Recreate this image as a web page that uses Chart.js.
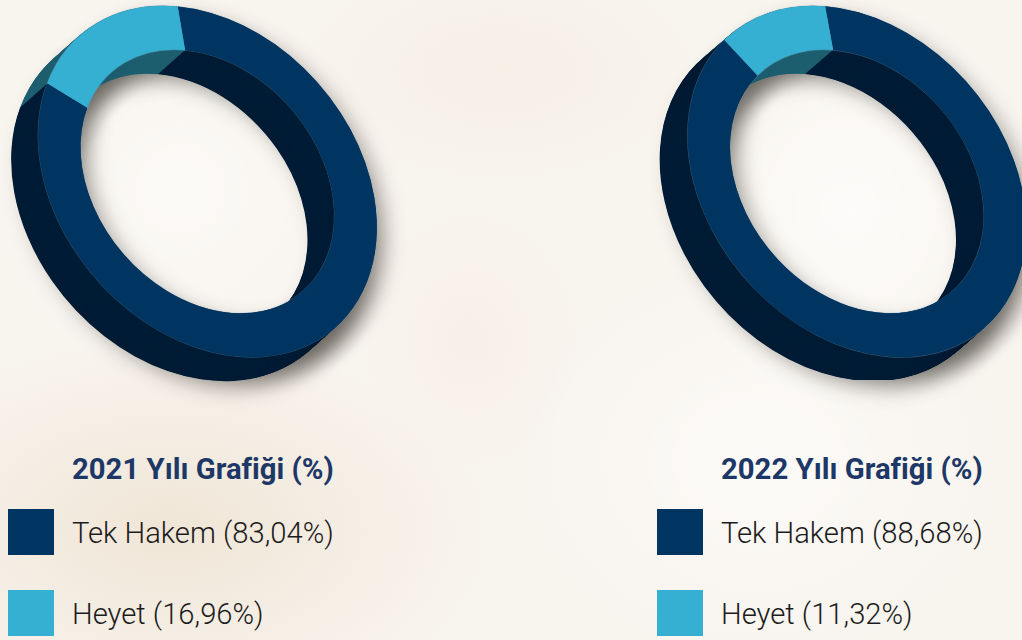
<!DOCTYPE html>
<html lang="tr">
<head>
<meta charset="utf-8">
<title>Tek Hakem / Heyet</title>
<script src="https://cdn.jsdelivr.net/npm/chart.js@4/dist/chart.umd.min.js"></script>
<style>
html, body { margin: 0; padding: 0; }
body {
    width: 1022px; height: 640px; overflow: hidden; position: relative;
    font-family: Roboto, sans-serif;
    background:
        radial-gradient(ellipse 190px 190px at 180px 190px, rgba(255,255,255,.5), rgba(255,255,255,0)),
        radial-gradient(ellipse 190px 210px at 850px 210px, rgba(255,255,255,.7), rgba(255,255,255,0)),
        radial-gradient(ellipse 240px 200px at 760px 460px, rgba(255,255,255,.6), rgba(255,255,255,0)),
        radial-gradient(ellipse 200px 110px at 500px 70px, rgba(243,236,226,.7), rgba(243,236,226,0)),
        radial-gradient(ellipse 320px 190px at 170px 530px, rgba(238,226,209,.8), rgba(238,226,209,0)),
        radial-gradient(ellipse 110px 130px at 470px 340px, rgba(245,237,227,.6), rgba(245,237,227,0)),
        #f8f4ee;
}
canvas { position: absolute; top: 0; }
.title { position: absolute; top: 451px; font-weight: 700; font-size: 29.3px; line-height: 36px; color: #1d3866; white-space: nowrap; }
.swatch { position: absolute; width: 46px; height: 46px; }
.label { position: absolute; font-weight: 300; font-size: 29.2px; line-height: 36px; color: #1c1c1c; white-space: nowrap; }
</style>
</head>
<body>
<canvas id="chart2021" width="500" height="420" style="left:0"></canvas>
<canvas id="chart2022" width="382" height="420" style="left:640px"></canvas>
<script>
var categories = ['Tek Hakem', 'Heyet']
var values2021 = [83.04, 16.96]
var values2022 = [88.68, 11.32]
var titles = ['2021 Yılı Grafiği (%)', '2022 Yılı Grafiği (%)']
var faceColors = ['#003562', '#35b0d2']
var wallColors = ['#001c35', '#1e5f70']

// how the flat ring is tilted into an ellipse and pushed back into a solid
function tiltPlugin(tilt) {
    return {
        id: 'tilt',
        beforeDatasetsDraw: function (chart) {
            var ctx = chart.ctx
            var arcs = chart.getDatasetMeta(0).data
            var r = arcs[0].outerRadius
            var rad = tilt.angle * Math.PI / 180
            var setFace = function (dx, dy) {
                ctx.setTransform(1, 0, 0, 1, 0, 0)
                ctx.translate(tilt.cx + dx, tilt.cy + dy)
                ctx.rotate(rad)
                ctx.scale(tilt.a / r, tilt.b / r)
                ctx.translate(-arcs[0].x, -arcs[0].y)
            }
            var paint = function (colors) {
                arcs.forEach(function (arc, i) {
                    var keep = arc.options
                    arc.options = Object.assign({}, keep, colors(i))
                    arc.draw(ctx)
                    arc.options = keep
                })
            }
            ctx.save()
            // soft shadow only, the shape itself is drawn far off the canvas
            ctx.shadowColor = 'rgba(60,55,50,.3)'
            ctx.shadowBlur = 20
            ctx.shadowOffsetX = 3000 + 10
            ctx.shadowOffsetY = 9
            for (var s = 0; s <= 3; s++) {
                setFace(tilt.dx * s / 3 - 3000, tilt.dy * s / 3)
                paint(function () { return { backgroundColor: '#000' } })
            }
            ctx.restore()
            // side wall
            ctx.save()
            if (tilt.clipY) {
                ctx.beginPath()
                ctx.rect(0, 0, chart.width, tilt.clipY)
                ctx.clip()
            }
            var steps = Math.ceil(Math.abs(tilt.dx)) * 2
            for (var k = steps; k >= 0; k--) {
                setFace(tilt.dx * k / steps, tilt.dy * k / steps)
                paint(function (i) { return { backgroundColor: wallColors[i] } })
            }
            ctx.restore()
            // hairline between wall and face, then the face
            ctx.save()
            setFace(0, 0)
            paint(function () { return { backgroundColor: 'rgba(0,0,0,0)', borderWidth: 1.2, borderColor: 'rgba(125,165,190,.4)', borderAlign: 'center' } })
            paint(function (i) { return { backgroundColor: faceColors[i], borderWidth: 0 } })
            ctx.restore()
            return false
        }
    }
}

function createChart(id, values, tilt) {
    return new Chart(document.getElementById(id).getContext('2d'), {
        type: 'doughnut',
        data: {
            labels: categories,
            datasets: [{ data: values, backgroundColor: faceColors, borderWidth: 0 }]
        },
        options: {
            responsive: false,
            animation: false,
            rotation: tilt.rotation,
            cutout: '75%',
            plugins: { legend: { display: false }, tooltip: { enabled: false } }
        },
        plugins: [tiltPlugin(tilt)]
    })
}

function addLegend(left, title, values) {
    var add = function (cls, x, y, text) {
        var el = document.createElement('div')
        el.className = cls
        el.style.left = x + 'px'
        if (y !== null) el.style.top = y + 'px'
        if (text) el.textContent = text
        document.body.appendChild(el)
        return el
    }
    add('title', left + 64, null, title)
    categories.forEach(function (name, i) {
        var y = 509 + i * 81
        add('swatch', left, y).style.background = faceColors[i]
        add('label', left + 64, y + 6, name + ' (' + values[i].toFixed(2).replace('.', ',') + '%)')
    })
}

createChart('chart2021', values2021, { cx: 207.5, cy: 181.5, a: 194, b: 148, angle: 49, rotation: -51.4, dx: -27, dy: 24 })
createChart('chart2022', values2022, { cx: 217, cy: 181.5, a: 194, b: 148, angle: 49, rotation: -52.1, dx: -28, dy: 24, clipY: 380 })
addLegend(8, titles[0], values2021)
addLegend(657, titles[1], values2022)
</script>
</body>
</html>
